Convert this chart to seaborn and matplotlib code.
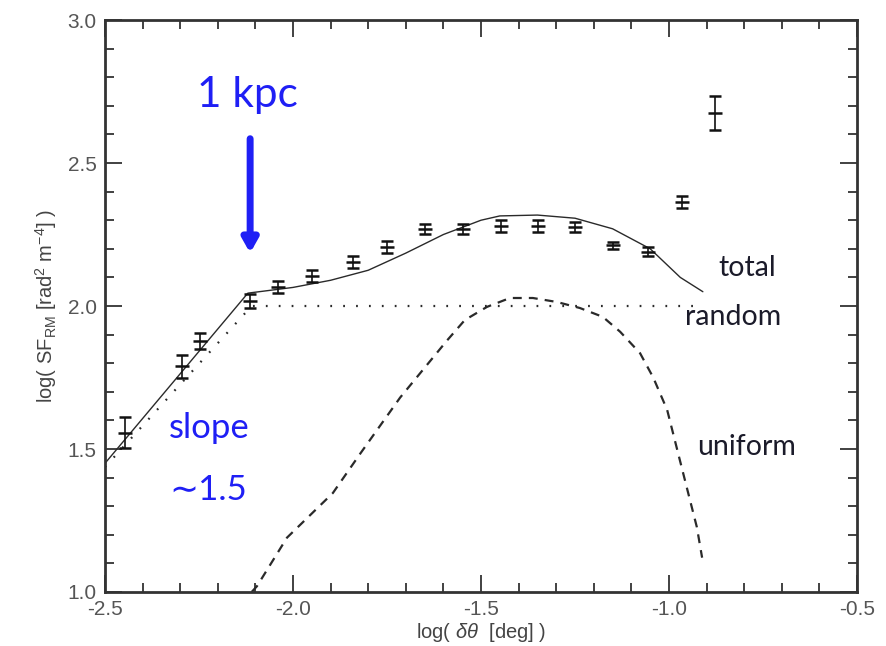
import numpy as np
import pandas as pd
import matplotlib
matplotlib.use("Agg")
import matplotlib.pyplot as plt
from matplotlib.ticker import MultipleLocator
import seaborn as sns

# Measured structure function of rotation measure
obs_x = [-2.447, -2.296, -2.247, -2.114, -2.04, -1.95, -1.84, -1.75, -1.65,
         -1.548, -1.447, -1.348, -1.25, -1.149, -1.056, -0.965, -0.877]
obs_y = [1.557, 1.79, 1.879, 2.017, 2.066, 2.105, 2.154, 2.206, 2.269,
         2.269, 2.28, 2.28, 2.277, 2.213, 2.19, 2.364, 2.674]
obs_err = [0.055, 0.04, 0.028, 0.025, 0.022, 0.02, 0.02, 0.02, 0.018,
           0.018, 0.02, 0.02, 0.018, 0.012, 0.015, 0.022, 0.06]

# Model components
total_x = [-2.5, -2.12, -2.0, -1.9, -1.8, -1.7, -1.6, -1.5, -1.45, -1.35,
           -1.25, -1.15, -1.05, -0.97, -0.91]
total_y = [1.45, 2.045, 2.065, 2.09, 2.125, 2.185, 2.25, 2.30, 2.315, 2.318,
           2.307, 2.27, 2.20, 2.10, 2.05]

random_x = [-2.5, -2.11, -0.92]
random_y = [1.437, 2.0, 2.0]

uniform_x = [-2.11, -2.096, -2.016, -1.894, -1.82, -1.715, -1.59, -1.543,
             -1.484, -1.423, -1.362, -1.298, -1.237, -1.176, -1.13, -1.077,
             -1.042, -1.005, -0.976, -0.949, -0.926, -0.912]
uniform_y = [1.0, 1.02, 1.19, 1.346, 1.486, 1.68, 1.88, 1.951, 1.997, 2.028,
             2.028, 2.014, 1.993, 1.962, 1.91, 1.835, 1.75, 1.637, 1.486,
             1.346, 1.227, 1.12]

x_ticks = [-2.5, -2.0, -1.5, -1.0, -0.5]
y_ticks = [1.0, 1.5, 2.0, 2.5, 3.0]

sns.set_style("ticks")
plt.rcParams["font.family"] = ["Liberation Sans", "DejaVu Sans"]
plt.rcParams["mathtext.fontset"] = "custom"
plt.rcParams["mathtext.rm"] = "Liberation Sans"
plt.rcParams["mathtext.it"] = "Liberation Sans:italic"

fig = plt.figure(figsize=(8.86, 6.46), dpi=100)
ax = fig.add_axes([0.1185, 0.0836, 0.8488, 0.8854])

line_col = "#2a2a2a"
df_tot = pd.DataFrame({"x": total_x, "y": total_y})
df_rand = pd.DataFrame({"x": random_x, "y": random_y})
df_uni = pd.DataFrame({"x": uniform_x, "y": uniform_y})

sns.lineplot(data=df_tot, x="x", y="y", ax=ax, color=line_col, lw=1.0,
             sort=False, estimator=None)
sns.lineplot(data=df_rand, x="x", y="y", ax=ax, color=line_col, lw=1.6,
             linestyle=(0, (0.8, 5.0)), sort=False, estimator=None)
sns.lineplot(data=df_uni, x="x", y="y", ax=ax, color=line_col, lw=1.6,
             linestyle=(0, (4.0, 3.2)), sort=False, estimator=None)

ax.errorbar(obs_x, obs_y, yerr=obs_err, fmt="_", color="#111111",
            ms=10, mew=1.8, elinewidth=1.2, capsize=4.5, capthick=1.2)

ax.set_xlim(-2.5, -0.5)
ax.set_ylim(1.0, 3.0)
ax.set_xticks(x_ticks)
ax.set_yticks(y_ticks)
ax.set_xticklabels([f"{v:.1f}" for v in x_ticks])
ax.set_yticklabels([f"{v:.1f}" for v in y_ticks])
ax.xaxis.set_minor_locator(MultipleLocator(0.1))
ax.yaxis.set_minor_locator(MultipleLocator(0.1))
ax.tick_params(which="both", direction="in", top=True, right=True,
               color="#333333", width=1.3)
ax.tick_params(which="major", length=12, labelsize=15, labelcolor="#555555", pad=6)
ax.tick_params(which="minor", length=6.5)
for s in ax.spines.values():
    s.set_linewidth(2.0)
    s.set_color("#333333")

ax.set_xlabel(r"log( $\it{\delta\theta}$  [deg] )", fontsize=14.5, color="#444444", labelpad=1)
ax.set_ylabel(r"log( SF$_{\rm RM}$ [rad$^{2}$ m$^{-4}$] )", fontsize=14.5,
              color="#444444", labelpad=6)

blue = "#1f1ff5"
tfont = ["Lato", "DejaVu Sans"]
ax.text(-2.255, 2.696, "1 kpc", color=blue, fontsize=30.5, family=tfont,
        ha="left", va="baseline")
ax.annotate("", xy=(-2.114, 2.185), xytext=(-2.114, 2.585),
            arrowprops=dict(arrowstyle="-|>,head_width=0.45,head_length=0.8",
                            color=blue, lw=5, shrinkA=0, shrinkB=0))
ax.text(-2.33, 1.538, "slope", color=blue, fontsize=25, family=tfont,
        ha="left", va="baseline")
ax.text(-2.33, 1.32, "\u223c1.5", color=blue, fontsize=25, family=tfont,
        ha="left", va="baseline")

dark = "#1b1b2a"
ax.text(-0.87, 2.105, "total", color=dark, fontsize=20.5, family=tfont,
        ha="left", va="baseline")
ax.text(-0.957, 1.934, "random", color=dark, fontsize=20.5, family=tfont,
        ha="left", va="baseline")
ax.text(-0.926, 1.479, "uniform", color=dark, fontsize=20.5, family=tfont,
        ha="left", va="baseline")

fig.savefig("out.png", dpi=100)
